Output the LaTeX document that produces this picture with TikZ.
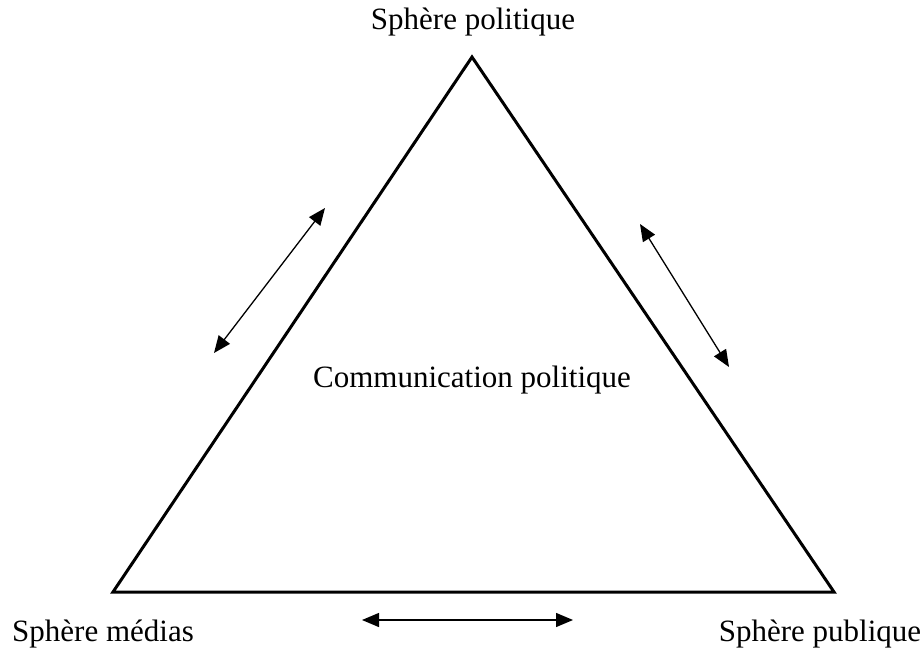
\documentclass[tikz,border=0pt]{standalone}
\usepackage{fontspec}
\setmainfont{Liberation Serif}
\usetikzlibrary{arrows.meta}
\tikzset{
  label/.style={font=\fontsize{31}{37}\selectfont, inner sep=0pt},
  link/.style={line width=1.3pt, {Triangle[length=17pt,width=14pt]}-{Triangle[length=17pt,width=14pt]}}
}
\begin{document}
\begin{tikzpicture}[x=1pt,y=-1pt]
\useasboundingbox (0,0) rectangle (924,652);
\coordinate (top) at (472,57);
\coordinate (left) at (113,592);
\coordinate (right) at (834,592);
\draw[line width=3pt, line join=miter] (top) -- (right) -- (left) -- cycle;
\node[label] (politique) at (473,22) {Sphère politique};
\node[label] (medias) at (103,634) {Sphère médias};
\node[label] (publique) at (820,634) {Sphère publique};
\node[label] (centre) at (472,380) {Communication politique};
\coordinate (a1) at (214,353);
\coordinate (a2) at (325,208);
\coordinate (b1) at (640,224);
\coordinate (b2) at (729,367);
\coordinate (c1) at (362,620);
\coordinate (c2) at (573,620);
\draw[link] (a1) -- (a2);
\draw[link] (b1) -- (b2);
\draw[link] (c1) -- (c2);
\end{tikzpicture}
\end{document}
